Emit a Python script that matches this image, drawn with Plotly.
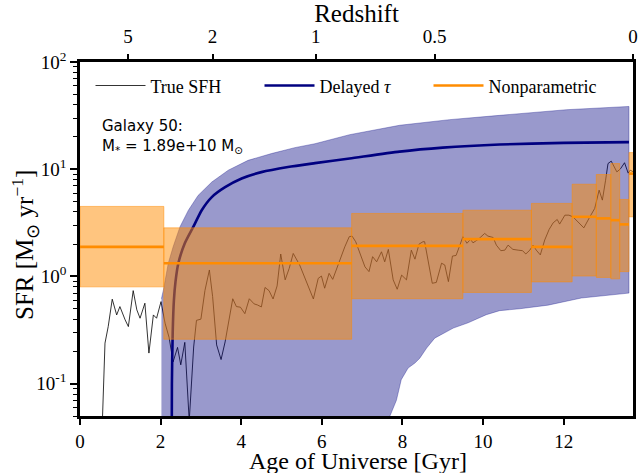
import plotly.graph_objects as go

# ---------------- data ----------------
sfh_age = [0.54, 0.62, 0.70, 0.80, 0.91, 0.99, 1.12, 1.20, 1.32, 1.41, 1.49, 1.61, 1.71, 1.82, 1.90,
           2.01, 2.11, 2.21, 2.31, 2.42, 2.50, 2.60, 2.71, 2.82, 2.89, 3.00, 3.10, 3.21, 3.29, 3.39,
           3.50, 3.60, 3.79, 3.88, 3.98, 4.09, 4.20, 4.32, 4.40, 4.50, 4.59, 4.69, 4.79, 4.89, 4.98,
           5.09, 5.19, 5.29, 5.45, 5.58, 5.70, 5.79, 5.91, 5.99, 6.07, 6.18, 6.27, 6.41, 6.57, 6.68,
           6.75, 6.84, 6.98, 7.07, 7.17, 7.26, 7.36, 7.48, 7.56, 7.65, 7.77, 7.87, 7.98, 8.10, 8.22,
           8.31, 8.41, 8.51, 8.55, 8.64, 8.74, 8.84, 8.97, 9.05, 9.14, 9.24, 9.33, 9.41, 9.50, 9.60,
           9.69, 9.75, 9.88, 10.04, 10.12, 10.25, 10.33, 10.44, 10.54, 10.62, 10.74, 10.87, 10.98,
           11.06, 11.16, 11.24, 11.32, 11.42, 11.53, 11.64, 11.74, 11.84, 11.90, 12.03, 12.13, 12.23,
           12.36, 12.50, 12.65, 12.77, 12.88, 12.96, 13.04, 13.10, 13.18, 13.32, 13.41, 13.51, 13.60,
           13.65, 13.72]
sfh_sfr = [0.03, 0.239, 0.341, 0.614, 0.438, 0.524, 0.394, 0.341, 0.738, 0.488, 0.408, 0.563, 0.193,
           0.438, 0.408, 0.583, 0.367, 0.27, 0.16, 0.218, 0.150, 0.243, 0.045, 0.22, 0.39, 0.40, 0.74,
           1.15, 0.65, 0.23, 0.168, 0.245, 0.62, 0.524, 0.517, 0.45, 0.62, 0.555, 0.543, 0.52, 0.79,
           0.738, 0.617, 0.816, 1.62, 0.93, 1.19, 1.64, 1.28, 0.97, 0.75, 0.617, 0.96, 1.01, 0.777,
           1.07, 0.94, 1.33, 1.89, 2.35, 2.38, 2.11, 1.53, 1.23, 1.11, 1.53, 1.37, 1.70, 1.37, 1.79,
           0.93, 0.76, 1.03, 0.93, 1.76, 1.45, 2.0, 2.11, 2.11, 1.42, 0.864, 0.88, 1.33, 1.28, 0.895,
           1.55, 1.57, 1.89, 2.35, 2.04, 2.22, 2.06, 2.22, 2.52, 2.38, 2.31, 1.96, 1.74, 1.76, 1.96,
           1.79, 1.76, 1.74, 1.62, 1.76, 1.96, 1.76, 1.59, 2.19, 2.75, 3.17, 3.40, 3.08, 3.73, 3.73,
           3.60, 3.23, 2.84, 3.60, 4.31, 6.38, 5.15, 7.90, 11.3, 11.9, 9.44, 10.1, 11.5, 9.2, 9.8, 9.5]

tau_age = [2.265, 2.28, 2.30, 2.33, 2.37, 2.44, 2.60, 2.81, 3.02, 3.27, 3.60, 4.01, 4.50, 5.16,
           5.83, 6.69, 7.93, 9.00, 10.41, 12.00, 13.62]
tau_med = [0.001, 0.1, 0.3, 0.6, 0.9, 1.33, 2.04, 2.9, 4.15, 5.5, 6.8, 8.2, 9.4, 10.5,
           11.4, 12.6, 14.6, 15.9, 17.0, 17.6, 17.9]

band_hi_age = [2.02, 2.07, 2.19, 2.31, 2.48, 2.69, 2.93, 3.27, 3.68, 4.17, 4.75, 5.33, 5.83,
               6.69, 7.93, 9.17, 10.41, 12.07, 13.62]
band_hi = [0.62, 0.75, 1.33, 1.89, 2.9, 4.15, 5.7, 7.6, 9.8, 12.1, 14.0, 15.9, 17.3,
           21.0, 25.7, 29.0, 31.8, 35.9, 38.5]
band_lo_age = [2.02, 7.60, 7.69, 7.85, 7.97, 8.14, 8.31, 8.43, 8.60, 8.80, 9.01, 9.26, 9.63,
               10.08, 10.41, 10.91, 11.61, 12.44, 13.62]
band_lo = [0.001, 0.01, 0.05, 0.07, 0.109, 0.14, 0.156, 0.173, 0.215, 0.266, 0.296, 0.33, 0.37,
           0.44, 0.48, 0.50, 0.54, 0.63, 0.70]

np_start = [0.0, 2.08, 6.74, 9.50, 11.20, 12.21, 12.81, 13.17, 13.39, 13.62]
np_end = [2.08, 6.74, 9.50, 11.20, 12.21, 12.81, 13.17, 13.39, 13.62, 13.80]
np_med = [1.89, 1.33, 1.93, 2.23, 1.89, 3.60, 3.48, 3.35, 3.06, 9.1]
np_lo = [0.80, 0.26, 0.62, 0.71, 0.89, 1.01, 0.98, 0.95, 1.11, 3.60]
np_hi = [4.5, 2.84, 3.87, 4.15, 4.80, 7.25, 8.93, 11.3, 5.23, 14.3]

z_labels = ["5", "2", "1", "0.5", "0"]
z_age = [1.19, 3.29, 5.85, 8.80, 13.72]

y_major = [0.1, 1, 10, 100]
y_major_text = ["10<sup>-1</sup>", "10<sup>0</sup>", "10<sup>1</sup>", "10<sup>2</sup>"]

# ---------------- figure ----------------
SERIF = "Liberation Serif, Times New Roman, Times, serif"
ORANGE = "#FF8C00"
NAVY = "#000080"
X_MAX = 13.72
TICK_SIZE = 19
TITLE_SIZE = 25

fig = go.Figure()

fig.add_trace(go.Scatter(x=sfh_age, y=sfh_sfr, mode="lines", name="True SFH",
                         line=dict(color="black", width=0.8)))

band_x = band_hi_age + band_lo_age[::-1]
band_y = band_hi + band_lo[::-1]
fig.add_trace(go.Scatter(x=band_x, y=band_y, mode="lines", fill="toself",
                         fillcolor="rgba(0,0,128,0.4)",
                         line=dict(color="rgba(0,0,128,0.4)", width=0.8),
                         showlegend=False, hoverinfo="skip"))

fig.add_trace(go.Scatter(x=tau_age, y=tau_med, mode="lines", name="Delayed <i>τ</i>",
                         line=dict(color=NAVY, width=2.6, shape="spline", smoothing=0.6)))

for i in range(len(np_med)):
    x0, x1 = np_start[i], np_end[i]
    fig.add_trace(go.Scatter(x=[x0, x1, x1, x0, x0],
                             y=[np_lo[i], np_lo[i], np_hi[i], np_hi[i], np_lo[i]],
                             mode="lines", fill="toself",
                             fillcolor="rgba(255,140,0,0.5)",
                             line=dict(color="rgba(255,140,0,0.5)", width=1),
                             showlegend=False, hoverinfo="skip"))

for i in range(len(np_med)):
    fig.add_trace(go.Scatter(x=[np_start[i], np_end[i]], y=[np_med[i], np_med[i]],
                             mode="lines", name="Nonparametric",
                             line=dict(color=ORANGE, width=2.6),
                             showlegend=(i == 0)))

# invisible trace to anchor top redshift axis
fig.add_trace(go.Scatter(x=z_age, y=[1] * len(z_age), xaxis="x2", mode="markers",
                         marker=dict(opacity=0), showlegend=False, hoverinfo="skip"))

minor_vals = []
for dec in [0.01, 0.1, 1, 10]:
    for k in range(2, 10):
        minor_vals.append(k * dec)

fig.update_layout(
    width=639, height=473,
    margin=dict(l=80, r=6, t=62, b=57),
    paper_bgcolor="white", plot_bgcolor="white",
    font=dict(family=SERIF, color="black", size=TICK_SIZE),
    xaxis=dict(range=[0, X_MAX], dtick=2, tick0=0, showgrid=False, zeroline=False,
               automargin=False, ticklabelstandoff=0,
               showline=True, linewidth=2.5, linecolor="black", mirror=True,
               ticks="outside", ticklen=6, tickwidth=1.5, tickcolor="black",
               tickfont=dict(family=SERIF, size=TICK_SIZE)),
    xaxis2=dict(range=[0, X_MAX], overlaying="x", side="top", tickmode="array",
                automargin=False, ticklabelstandoff=3,
                tickvals=z_age, ticktext=z_labels, showgrid=False, zeroline=False,
                showline=False, ticks="outside", ticklen=7, tickwidth=1.5, tickcolor="black",
                tickfont=dict(family=SERIF, size=TICK_SIZE),
                title=dict(text="Redshift", font=dict(family=SERIF, size=TITLE_SIZE),
                           standoff=0)),
    yaxis=dict(type="log", range=[-1.30103, 2], tickmode="array", tickvals=y_major,
               automargin=False,
               ticktext=y_major_text, showgrid=False, zeroline=False,
               showline=True, linewidth=2.5, linecolor="black", mirror=True,
               ticks="outside", ticklen=7, tickwidth=1.5, tickcolor="black",
               tickfont=dict(family=SERIF, size=TICK_SIZE),
               minor=dict(tickmode="array", tickvals=minor_vals, ticks="outside",
                          ticklen=4, tickwidth=1, tickcolor="black", showgrid=False)),
    legend=dict(orientation="h", x=0.019, y=0.985, xanchor="left", yanchor="top",
                bgcolor="rgba(0,0,0,0)", font=dict(family=SERIF, size=18),
                entrywidth=104, entrywidthmode="pixels", itemwidth=50,
                traceorder="normal"),
    annotations=[
        dict(text="Galaxy 50:<br>M<sub>*</sub> = 1.89e+10 M<sub>⊙</sub>",
             xref="paper", yref="paper", x=0.036, y=0.85, xanchor="left", yanchor="top",
             align="left", showarrow=False,
             font=dict(family="DejaVu Sans", size=15, color="black")),
        dict(text="SFR [M<sub>⊙</sub> yr<sup>−1</sup>]", textangle=-90,
             xref="paper", yref="paper", x=-0.0995, y=0.483, xanchor="center",
             yanchor="middle", showarrow=False,
             font=dict(family=SERIF, size=TITLE_SIZE, color="black")),
        dict(text="Age of Universe [Gyr]",
             xref="paper", yref="paper", x=0.502, y=-0.128, xanchor="center",
             yanchor="middle", showarrow=False,
             font=dict(family=SERIF, size=24, color="black")),
    ],
)

fig.write_html("out.html", config={"displayModeBar": False},
               post_script="document.body.style.margin='0';document.body.style.padding='0';")
